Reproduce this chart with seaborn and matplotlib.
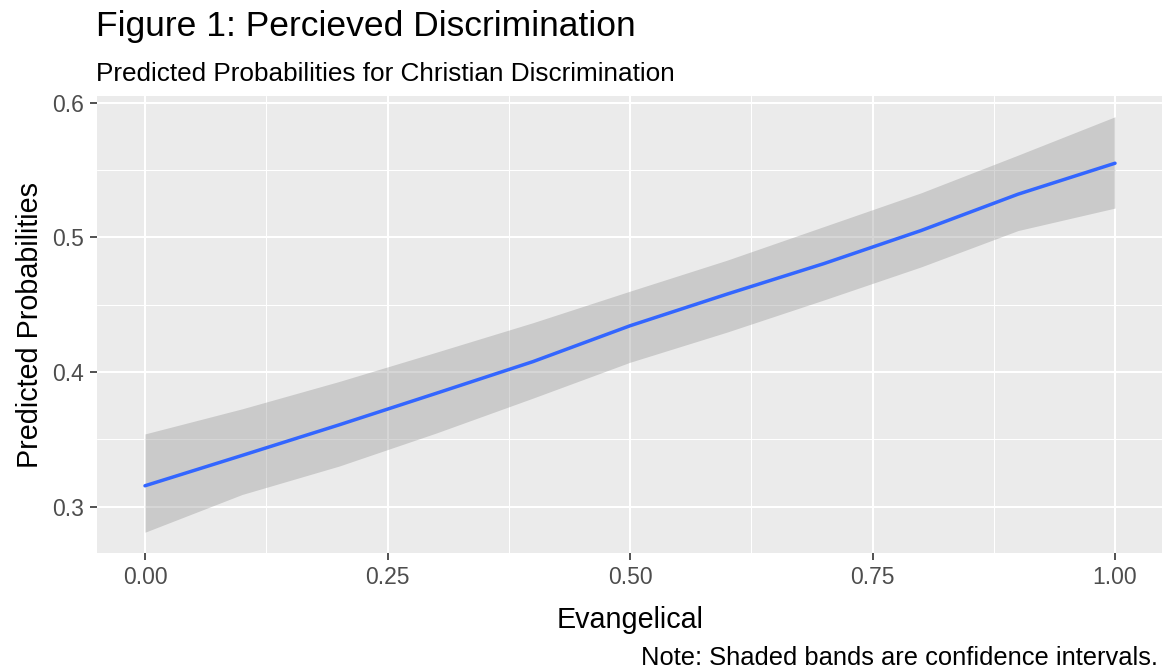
import numpy as np
import pandas as pd
import matplotlib
matplotlib.use("Agg")
import matplotlib.pyplot as plt
from matplotlib.ticker import FixedLocator
import seaborn as sns

# Data
evangelical = [0.0, 0.1, 0.2, 0.3, 0.4, 0.5, 0.6, 0.7, 0.8, 0.9, 1.0]
predicted   = [0.3155, 0.338, 0.3607, 0.3841, 0.4077, 0.4343, 0.4578, 0.4805, 0.505, 0.532, 0.555]
ci_low      = [0.281, 0.309, 0.3301, 0.3546, 0.3806, 0.4072, 0.4296, 0.4535, 0.478, 0.505, 0.5217]
ci_high     = [0.354, 0.3726, 0.3929, 0.4146, 0.4366, 0.460, 0.483, 0.508, 0.533, 0.561, 0.5895]

x_ticks = [0.0, 0.25, 0.5, 0.75, 1.0]
x_tick_labels = ["0.00", "0.25", "0.50", "0.75", "1.00"]
y_ticks = [0.3, 0.4, 0.5, 0.6]
y_tick_labels = ["0.3", "0.4", "0.5", "0.6"]

title = "Figure 1: Percieved Discrimination"
subtitle = "Predicted Probabilities for Christian Discrimination"
caption = "Note: Shaded bands are confidence intervals."
xlabel = "Evangelical"
ylabel = "Predicted Probabilities"

df = pd.DataFrame({"Evangelical": evangelical, "pred": predicted,
                   "lo": ci_low, "hi": ci_high})

sns.set_theme(style="darkgrid", rc={
    "axes.facecolor": "#EBEBEB",
    "grid.color": "white",
    "axes.edgecolor": "#EBEBEB",
})
plt.rcParams["font.family"] = ["Liberation Sans", "DejaVu Sans"]

W, H = 1162, 672
fig = plt.figure(figsize=(W / 100, H / 100), dpi=100)
fig.patch.set_facecolor("white")

# panel position in pixels
left_px, right_px, top_px, bottom_px = 96.5, 1162, 96, 553
ax = fig.add_axes([left_px / W, 1 - bottom_px / H,
                   (right_px - left_px) / W, (bottom_px - top_px) / H])

ax.fill_between(df["Evangelical"], df["lo"], df["hi"], color="#999999",
                alpha=0.4, linewidth=0, zorder=2)
sns.lineplot(data=df, x="Evangelical", y="pred", ax=ax, color="#3366FF",
             linewidth=2.5, zorder=3)

# x range with ggplot-like expansion
xr = max(evangelical) - min(evangelical)
x0 = min(evangelical) - 0.05 * xr
px_per_unit = (1115 - 145)
ax.set_xlim(x0, x0 + (right_px - left_px) / px_per_unit)
yr = max(ci_high) - min(ci_low)
ax.set_ylim(min(ci_low) - 0.05 * yr, max(ci_high) + 0.05 * yr)

ax.xaxis.set_major_locator(FixedLocator(x_ticks))
ax.set_xticklabels(x_tick_labels)
ax.yaxis.set_major_locator(FixedLocator(y_ticks))
ax.set_yticklabels(y_tick_labels)
ax.xaxis.set_minor_locator(FixedLocator([0.125, 0.375, 0.625, 0.875]))
ax.yaxis.set_minor_locator(FixedLocator([0.25, 0.35, 0.45, 0.55]))
ax.grid(which="major", color="white", linewidth=1.5)
ax.grid(which="minor", color="white", linewidth=0.75)

ax.tick_params(axis="both", which="major", length=5, width=1.2,
               color="#333333", labelcolor="#4D4D4D", labelsize=16.5,
               bottom=True, left=True, pad=4)
ax.tick_params(which="minor", length=0)
for s in ax.spines.values():
    s.set_visible(False)

ax.set_xlabel("")
ax.set_ylabel("")

fig.text(630 / W, 1 - 628 / H, xlabel, ha="center", va="baseline",
         fontsize=20.7, color="black")
fig.text(30 / W, 1 - 324.5 / H, ylabel, ha="center", va="center",
         rotation=90, fontsize=20.7, color="black")
fig.text(96 / W, 1 - 36 / H, title, ha="left", va="baseline",
         fontsize=25.5, color="black")
fig.text(96 / W, 1 - 81 / H, subtitle, ha="left", va="baseline",
         fontsize=18.8, color="black")
fig.text(1158 / W, 1 - 665 / H, caption, ha="right", va="baseline",
         fontsize=18.4, color="black")

fig.savefig("out.png", dpi=100)
